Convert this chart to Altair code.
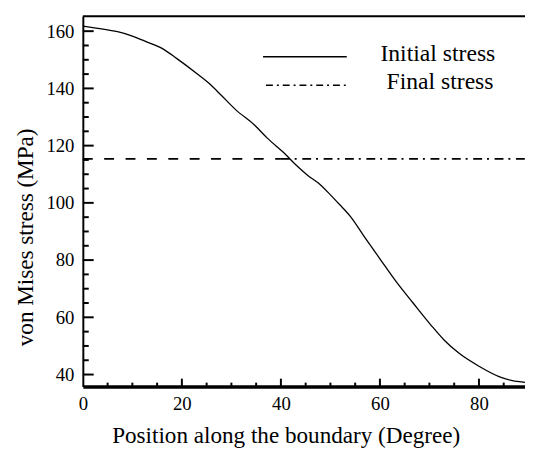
import altair as alt
import pandas as pd

# ---- data ----
pos_deg = [0, 3, 7, 10, 13, 16, 19, 23, 25.6, 28, 30.9, 34.6, 37.2, 40.9, 43,
           45.5, 47.5, 50, 51.8, 54.1, 56.8, 60.1, 63.4, 66.7, 70.3, 73, 76,
           80, 84.6, 88.6, 89.3]
initial_stress = [161.8, 161.0, 159.8, 158.3, 156.2, 154.0, 150.4, 145.2, 141.6,
                  137.5, 132.5, 127.3, 122.7, 117.0, 113.3, 109.5, 107.0, 102.8,
                  99.5, 95.1, 88.3, 80.2, 72.2, 65.0, 57.3, 52.0, 47.4, 42.9,
                  38.9, 37.4, 37.3]
final_stress = 115.35
final_seg_start = [0, 40]
final_seg_end = [40, 89.3]
final_seg_style = ["dash", "dashdot"]

x_ticks_major = [0, 20, 40, 60, 80]
x_ticks_minor = [5, 10, 15, 25, 30, 35, 45, 50, 55, 65, 70, 75, 85]
y_ticks_major = [40, 60, 80, 100, 120, 140, 160]
y_ticks_minor = [45, 50, 55, 65, 70, 75, 85, 90, 95, 105, 110, 115, 125, 130,
                 135, 145, 150, 155]

X_DOMAIN = [0, 89.3]
Y_DOMAIN = [35.8, 165.2]
W, H = 449, 376
FONT = "Liberation Serif"

xs = alt.Scale(domain=X_DOMAIN, nice=False, zero=False)
ys = alt.Scale(domain=Y_DOMAIN, nice=False, zero=False)

curve_df = pd.DataFrame({"x": pos_deg, "y": initial_stress})
seg_df = pd.DataFrame({"x": final_seg_start, "x2": final_seg_end,
                       "y": [final_stress] * 2, "style": final_seg_style})

x_axis = alt.Axis(values=x_ticks_major, ticks=False, grid=False, labelFlush=False,
                  labelFont=FONT, labelFontSize=19, labelColor="black", labelPadding=8,
                  domainColor="black", domainWidth=3.5,
                  title="Position along  the boundary (Degree)", titleFont=FONT,
                  titleFontSize=23.5, titleFontWeight="normal", titleColor="black",
                  titleX=206, titleY=56.5, titleBaseline="alphabetic", titleAlign="center")
y_axis = alt.Axis(values=y_ticks_major, ticks=False, grid=False, labelFlush=False,
                  labelFont=FONT, labelFontSize=19, labelColor="black", labelPadding=9,
                  domainColor="black", domainWidth=2,
                  title="von Mises stress (MPa)", titleFont=FONT,
                  titleFontSize=23.5, titleFontWeight="normal", titleColor="black",
                  titleX=-51, titleY=224, titleAngle=-90, titleBaseline="alphabetic",
                  titleAlign="center")


def X(f):
    return alt.X(f, scale=xs, axis=x_axis)


def Y(f):
    return alt.Y(f, scale=ys, axis=y_axis)


curve = alt.Chart(curve_df).mark_line(color="black", strokeWidth=1.3,
                                      interpolate="monotone").encode(
    x=X("x:Q"), y=Y("y:Q"))

dash = alt.Chart(seg_df).transform_filter(alt.datum.style == "dash").mark_rule(
    color="black", strokeWidth=1.8, strokeDash=[10, 11.7]).encode(
    x=X("x:Q"), x2="x2:Q", y=Y("y:Q"))
dashdot = alt.Chart(seg_df).transform_filter(alt.datum.style == "dashdot").mark_rule(
    color="black", strokeWidth=1.8, strokeDash=[9, 5, 2, 5.7]).encode(
    x=X("x:Q"), x2="x2:Q", y=Y("y:Q"))

# inward ticks
yt_major = alt.Chart(pd.DataFrame({"v": y_ticks_major})).mark_rule(
    color="black", strokeWidth=2).encode(
    y=Y("v:Q"), x=alt.value(0), x2=alt.value(11))
yt_minor = alt.Chart(pd.DataFrame({"v": y_ticks_minor})).mark_rule(
    color="black", strokeWidth=2).encode(
    y=Y("v:Q"), x=alt.value(0), x2=alt.value(6))
xt_major = alt.Chart(pd.DataFrame({"v": x_ticks_major[1:]})).mark_rule(
    color="black", strokeWidth=2).encode(
    x=X("v:Q"), y=alt.value(H), y2=alt.value(H - 8))
xt_minor = alt.Chart(pd.DataFrame({"v": x_ticks_minor})).mark_rule(
    color="black", strokeWidth=2).encode(
    x=X("v:Q"), y=alt.value(H), y2=alt.value(H - 4))

top_border = alt.Chart(pd.DataFrame({"a": [0]})).mark_rule(
    color="black", strokeWidth=2).encode(
    x=alt.value(0), x2=alt.value(W), y=alt.value(0))

# legend
leg_solid = alt.Chart(pd.DataFrame({"a": [0]})).mark_rule(
    color="black", strokeWidth=1.5).encode(
    x=alt.value(183), x2=alt.value(268), y=alt.value(41))
leg_dd = alt.Chart(pd.DataFrame({"a": [0]})).mark_rule(
    color="black", strokeWidth=1.5, strokeDash=[7, 4, 2, 4]).encode(
    x=alt.value(186), x2=alt.value(268), y=alt.value(70))
leg_txt1 = alt.Chart(pd.DataFrame({"t": ["Initial stress"]})).mark_text(
    font=FONT, fontSize=24, color="black", align="center", baseline="alphabetic").encode(
    x=alt.value(360.5), y=alt.value(45.2), text="t:N")
leg_txt2 = alt.Chart(pd.DataFrame({"t": ["Final stress"]})).mark_text(
    font=FONT, fontSize=24, color="black", align="center", baseline="alphabetic").encode(
    x=alt.value(362.7), y=alt.value(74.2), text="t:N")

chart = alt.layer(
    curve, dash, dashdot, yt_major, yt_minor, xt_major, xt_minor, top_border,
    leg_solid, leg_dd, leg_txt1, leg_txt2
).properties(
    width=W, height=H,
    autosize=alt.AutoSizeParams(type="none"),
    padding={"left": 76, "top": 5, "right": 0, "bottom": 61},
    background="white",
).configure(font=FONT).configure_view(strokeWidth=0).configure_axis(
    labelFont=FONT, titleFont=FONT
).configure_text(font=FONT)

chart.save("out.html", embed_options={"renderer": "svg", "actions": False})
